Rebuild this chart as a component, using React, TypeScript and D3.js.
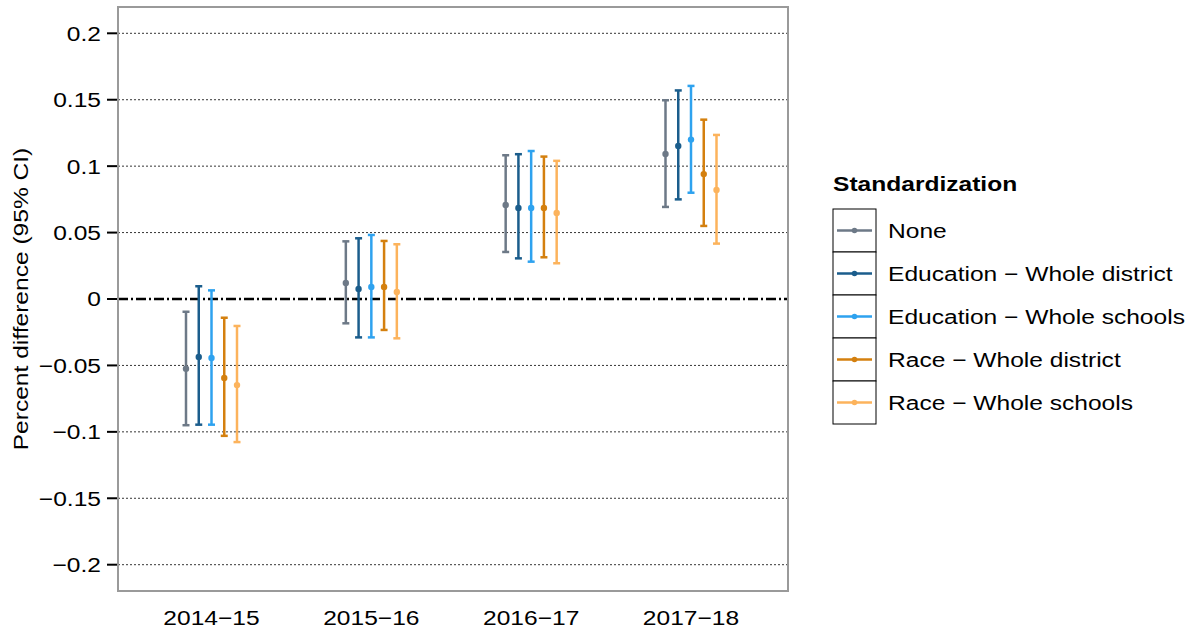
import React from 'react';
import * as d3 from 'd3';

const years = ['2014\u221215', '2015\u221216', '2016\u221217', '2017\u221218'];
const groups = ['None', 'Education \u2212 Whole district', 'Education \u2212 Whole schools', 'Race \u2212 Whole district', 'Race \u2212 Whole schools'];
const colors = ['#6d7987', '#1b5d8c', '#2ea2ef', '#d4800f', '#fcb35c'];

// estimates per group, one entry per year
const estimates = [
  [-0.0525, 0.012, 0.0708, 0.1092],
  [-0.0437, 0.0075, 0.0685, 0.1152],
  [-0.0444, 0.009, 0.0685, 0.12],
  [-0.0595, 0.009, 0.0685, 0.094],
  [-0.0648, 0.0053, 0.0648, 0.082],
];
const lower = [
  [-0.095, -0.0183, 0.0354, 0.0693],
  [-0.0946, -0.0289, 0.0306, 0.075],
  [-0.0946, -0.0289, 0.0281, 0.08],
  [-0.103, -0.0233, 0.0314, 0.055],
  [-0.1077, -0.0296, 0.0269, 0.0417],
];
const upper = [
  [-0.0096, 0.0434, 0.1082, 0.1496],
  [0.0096, 0.0457, 0.109, 0.157],
  [0.0065, 0.0482, 0.1114, 0.1604],
  [-0.0141, 0.0437, 0.1072, 0.135],
  [-0.0203, 0.0412, 0.104, 0.1235],
];
const yTicks = [-0.2, -0.15, -0.1, -0.05, 0, 0.05, 0.1, 0.15, 0.2];

const W = 1194;
const H = 633;
const panel = { left: 118, right: 788, top: 7, bottom: 591 };
const SX = 1.17; // text in the reference is drawn a bit wide

// text helper: places at (x,y), optional rotation, then stretches horizontally
const T = ({ x, y, rot = 0, anchor = 'start', bold = false, dy = '0', children }: any) => (
  <text transform={`translate(${x},${y}) rotate(${rot}) scale(${SX},1)`} dy={dy}
    textAnchor={anchor} fontSize={21} fontWeight={bold ? 'bold' : 'normal'} fill="#000">
    {children}
  </text>
);

export default function App() {
  const x = d3.scalePoint<string>()
    .domain(years)
    .range([211.5, 691]);
  const y = d3.scaleLinear()
    .domain([-0.2198, 0.2198])
    .range([panel.bottom, panel.top]);
  const dodge = d3.scalePoint<string>()
    .domain(groups)
    .range([-25.5, 25.5]);

  const fmt = (v: number) => (v < 0 ? '\u2212' : '') + d3.format('')(Math.abs(+v.toFixed(2)));
  const font = 'Liberation Sans, Arial, sans-serif';

  return (
    <svg width={W} height={H} style={{ position: 'absolute', left: 0, top: 0 }} fontFamily={font}>
      <rect width={W} height={H} fill="#fff" />
      {yTicks.map(t => (
        <g key={t}>
          <line x1={panel.left} x2={panel.right} y1={y(t)} y2={y(t)}
            stroke={t === 0 ? 'none' : '#000'} strokeWidth={0.8} strokeDasharray="2,2" />
          <line x1={panel.left - 11} x2={panel.left} y1={y(t)} y2={y(t)} stroke="#000" strokeWidth={2} />
          <T x={101} y={y(t)} dy="0.35em" anchor="end">{fmt(t)}</T>
        </g>
      ))}
      <line x1={panel.left} x2={panel.right} y1={y(0)} y2={y(0)}
        stroke="#000" strokeWidth={2.5} strokeDasharray="10,3,2,3" />

      {groups.map((g, gi) => (
        <g key={g}>
          {years.map((yr, yi) => {
            const cx = (x(yr) || 0) + (dodge(g) || 0);
            return (
              <g key={yr}>
                <line x1={cx} x2={cx} y1={y(lower[gi][yi])} y2={y(upper[gi][yi])} stroke={colors[gi]} strokeWidth={2.5} />
                <line x1={cx - 3.5} x2={cx + 3.5} y1={y(lower[gi][yi])} y2={y(lower[gi][yi])} stroke={colors[gi]} strokeWidth={2.5} />
                <line x1={cx - 3.5} x2={cx + 3.5} y1={y(upper[gi][yi])} y2={y(upper[gi][yi])} stroke={colors[gi]} strokeWidth={2.5} />
                <circle cx={cx} cy={y(estimates[gi][yi])} r={3.2} fill={colors[gi]} />
              </g>
            );
          })}
        </g>
      ))}

      <rect x={panel.left} y={panel.top} width={panel.right - panel.left} height={panel.bottom - panel.top}
        fill="none" stroke="#9a9a9a" strokeWidth={2} />

      {years.map(yr => (
        <T key={yr} x={x(yr)} y={625} anchor="middle">{yr}</T>
      ))}

      <T x={28} y={299} rot={-90} anchor="middle">Percent difference (95% CI)</T>

      <T x={833} y={191} bold>Standardization</T>
      {groups.map((g, gi) => {
        const top = 209 + gi * 43;
        return (
          <g key={g}>
            <rect x={833} y={top} width={43} height={43} fill="#fff" stroke="#000" strokeWidth={1} />
            <line x1={837} x2={872} y1={top + 21.5} y2={top + 21.5} stroke={colors[gi]} strokeWidth={2.5} />
            <circle cx={854.5} cy={top + 21.5} r={2.8} fill={colors[gi]} />
            <T x={888} y={top + 21.5} dy="0.35em">{g}</T>
          </g>
        );
      })}
    </svg>
  );
}
